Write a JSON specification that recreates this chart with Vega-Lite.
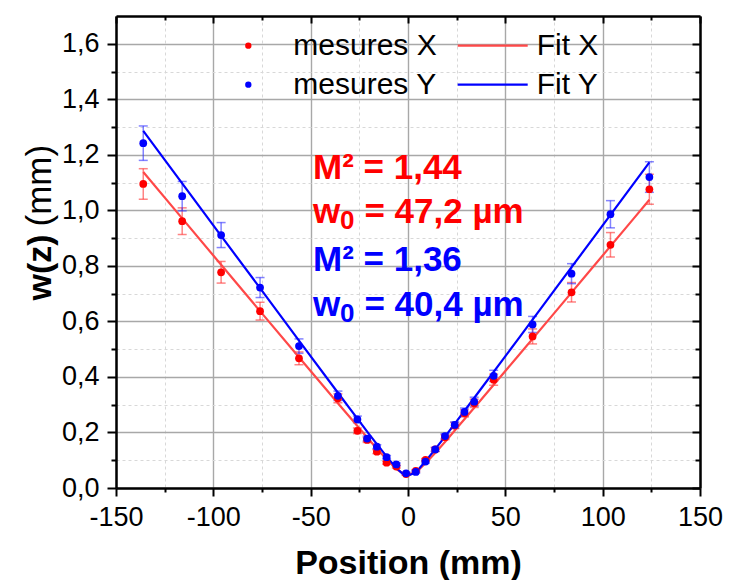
{
  "$schema": "https://vega.github.io/schema/vega-lite/v6.json",
  "width": 584,
  "height": 472,
  "autosize": {"type": "none"},
  "padding": {"left": 116, "top": 16, "right": 29, "bottom": 92},
  "background": "white",
  "config": {"font": "Liberation Sans", "view": {"stroke": null}},
  "datasets": {
    "meas": [
      {"z": -136, "w": 1.095, "err": 0.055, "series": "mesures X"},
      {"z": -116, "w": 0.961, "err": 0.048, "series": "mesures X"},
      {"z": -96, "w": 0.777, "err": 0.039, "series": "mesures X"},
      {"z": -76, "w": 0.637, "err": 0.032, "series": "mesures X"},
      {"z": -56, "w": 0.467, "err": 0.023, "series": "mesures X"},
      {"z": -36, "w": 0.323, "err": 0.016, "series": "mesures X"},
      {"z": -26, "w": 0.206, "err": 0.010, "series": "mesures X"},
      {"z": -21, "w": 0.173, "err": 0.009, "series": "mesures X"},
      {"z": -16, "w": 0.131, "err": 0.007, "series": "mesures X"},
      {"z": -11, "w": 0.091, "err": 0.005, "series": "mesures X"},
      {"z": -6, "w": 0.077, "err": 0.005, "series": "mesures X"},
      {"z": -1, "w": 0.050, "err": 0.004, "series": "mesures X"},
      {"z": 4, "w": 0.062, "err": 0.004, "series": "mesures X"},
      {"z": 9, "w": 0.101, "err": 0.005, "series": "mesures X"},
      {"z": 14, "w": 0.139, "err": 0.007, "series": "mesures X"},
      {"z": 19, "w": 0.183, "err": 0.009, "series": "mesures X"},
      {"z": 24, "w": 0.225, "err": 0.011, "series": "mesures X"},
      {"z": 29, "w": 0.269, "err": 0.013, "series": "mesures X"},
      {"z": 34, "w": 0.305, "err": 0.015, "series": "mesures X"},
      {"z": 44, "w": 0.390, "err": 0.020, "series": "mesures X"},
      {"z": 64, "w": 0.546, "err": 0.027, "series": "mesures X"},
      {"z": 84, "w": 0.705, "err": 0.035, "series": "mesures X"},
      {"z": 104, "w": 0.876, "err": 0.044, "series": "mesures X"},
      {"z": 124, "w": 1.076, "err": 0.054, "series": "mesures X"},
      {"z": -136, "w": 1.242, "err": 0.062, "series": "mesures Y"},
      {"z": -116, "w": 1.051, "err": 0.053, "series": "mesures Y"},
      {"z": -96, "w": 0.911, "err": 0.045, "series": "mesures Y"},
      {"z": -76, "w": 0.722, "err": 0.036, "series": "mesures Y"},
      {"z": -56, "w": 0.511, "err": 0.026, "series": "mesures Y"},
      {"z": -36, "w": 0.332, "err": 0.017, "series": "mesures Y"},
      {"z": -26, "w": 0.247, "err": 0.012, "series": "mesures Y"},
      {"z": -21, "w": 0.178, "err": 0.009, "series": "mesures Y"},
      {"z": -16, "w": 0.149, "err": 0.007, "series": "mesures Y"},
      {"z": -11, "w": 0.111, "err": 0.006, "series": "mesures Y"},
      {"z": -6, "w": 0.085, "err": 0.005, "series": "mesures Y"},
      {"z": -1, "w": 0.053, "err": 0.004, "series": "mesures Y"},
      {"z": 4, "w": 0.058, "err": 0.004, "series": "mesures Y"},
      {"z": 9, "w": 0.095, "err": 0.005, "series": "mesures Y"},
      {"z": 14, "w": 0.139, "err": 0.007, "series": "mesures Y"},
      {"z": 19, "w": 0.187, "err": 0.009, "series": "mesures Y"},
      {"z": 24, "w": 0.227, "err": 0.011, "series": "mesures Y"},
      {"z": 29, "w": 0.274, "err": 0.014, "series": "mesures Y"},
      {"z": 34, "w": 0.311, "err": 0.016, "series": "mesures Y"},
      {"z": 44, "w": 0.404, "err": 0.020, "series": "mesures Y"},
      {"z": 64, "w": 0.589, "err": 0.029, "series": "mesures Y"},
      {"z": 84, "w": 0.772, "err": 0.036, "series": "mesures Y"},
      {"z": 104, "w": 0.986, "err": 0.049, "series": "mesures Y"},
      {"z": 124, "w": 1.120, "err": 0.055, "series": "mesures Y"}
    ],
    "fits": [
      {"z": -136, "w": 1.138, "fit": "Fit X"},
      {"z": -116, "w": 0.971, "fit": "Fit X"},
      {"z": -96, "w": 0.804, "fit": "Fit X"},
      {"z": -76, "w": 0.637, "fit": "Fit X"},
      {"z": -56, "w": 0.471, "fit": "Fit X"},
      {"z": -36, "w": 0.305, "fit": "Fit X"},
      {"z": -26, "w": 0.223, "fit": "Fit X"},
      {"z": -20, "w": 0.174, "fit": "Fit X"},
      {"z": -15, "w": 0.134, "fit": "Fit X"},
      {"z": -10, "w": 0.096, "fit": "Fit X"},
      {"z": -6, "w": 0.069, "fit": "Fit X"},
      {"z": -3, "w": 0.054, "fit": "Fit X"},
      {"z": 0, "w": 0.048, "fit": "Fit X"},
      {"z": 3, "w": 0.054, "fit": "Fit X"},
      {"z": 6, "w": 0.069, "fit": "Fit X"},
      {"z": 10, "w": 0.096, "fit": "Fit X"},
      {"z": 15, "w": 0.134, "fit": "Fit X"},
      {"z": 20, "w": 0.174, "fit": "Fit X"},
      {"z": 26, "w": 0.223, "fit": "Fit X"},
      {"z": 36, "w": 0.305, "fit": "Fit X"},
      {"z": 56, "w": 0.471, "fit": "Fit X"},
      {"z": 76, "w": 0.637, "fit": "Fit X"},
      {"z": 96, "w": 0.804, "fit": "Fit X"},
      {"z": 116, "w": 0.971, "fit": "Fit X"},
      {"z": 124, "w": 1.038, "fit": "Fit X"},
      {"z": -136, "w": 1.286, "fit": "Fit Y"},
      {"z": -116, "w": 1.097, "fit": "Fit Y"},
      {"z": -96, "w": 0.908, "fit": "Fit Y"},
      {"z": -76, "w": 0.720, "fit": "Fit Y"},
      {"z": -56, "w": 0.531, "fit": "Fit Y"},
      {"z": -36, "w": 0.343, "fit": "Fit Y"},
      {"z": -26, "w": 0.250, "fit": "Fit Y"},
      {"z": -20, "w": 0.194, "fit": "Fit Y"},
      {"z": -15, "w": 0.149, "fit": "Fit Y"},
      {"z": -10, "w": 0.105, "fit": "Fit Y"},
      {"z": -6, "w": 0.072, "fit": "Fit Y"},
      {"z": -3, "w": 0.053, "fit": "Fit Y"},
      {"z": 0, "w": 0.045, "fit": "Fit Y"},
      {"z": 3, "w": 0.053, "fit": "Fit Y"},
      {"z": 6, "w": 0.072, "fit": "Fit Y"},
      {"z": 10, "w": 0.105, "fit": "Fit Y"},
      {"z": 15, "w": 0.149, "fit": "Fit Y"},
      {"z": 20, "w": 0.194, "fit": "Fit Y"},
      {"z": 26, "w": 0.250, "fit": "Fit Y"},
      {"z": 36, "w": 0.343, "fit": "Fit Y"},
      {"z": 56, "w": 0.531, "fit": "Fit Y"},
      {"z": 76, "w": 0.720, "fit": "Fit Y"},
      {"z": 96, "w": 0.908, "fit": "Fit Y"},
      {"z": 116, "w": 1.097, "fit": "Fit Y"},
      {"z": 124, "w": 1.173, "fit": "Fit Y"}
    ],
    "notesX": [
      {"z": -48.8, "w": 1.1124, "t": "M² = 1,44"},
      {"z": -48.8, "w": 0.9531, "t": "w"},
      {"z": -22.4, "w": 0.9531, "t": "= 47,2 µm"}
    ],
    "subX": [
      {"z": -34.9, "w": 0.9315, "t": "0"}
    ],
    "notesY": [
      {"z": -48.8, "w": 0.7831, "t": "M² = 1,36"},
      {"z": -48.8, "w": 0.6180, "t": "w"},
      {"z": -22.4, "w": 0.6180, "t": "= 40,4 µm"}
    ],
    "subY": [
      {"z": -34.9, "w": 0.5964, "t": "0"}
    ]
  },
  "resolve": {"axis": {"x": "independent", "y": "independent"}},
  "layer": [
    {
      "data": {"name": "meas"},
      "transform": [{"filter": "datum.series == 'mesures X'"}],
      "mark": {"type": "errorbar", "ticks": {"size": 9, "thickness": 1.5}, "thickness": 1.5, "opacity": 0.6, "color": "#ff3030"},
      "encoding": {
        "x": {"field": "z", "type": "quantitative", "scale": {"domain": [-150, 150], "nice": false, "zero": false}, "axis": null},
        "y": {"field": "w", "type": "quantitative", "scale": {"domain": [0, 1.7], "nice": false, "zero": false}, "axis": null},
        "yError": {"field": "err"}
      }
    },
    {
      "data": {"name": "meas"},
      "transform": [{"filter": "datum.series == 'mesures Y'"}],
      "mark": {"type": "errorbar", "ticks": {"size": 9, "thickness": 1.5}, "thickness": 1.5, "opacity": 0.6, "color": "#3030ff"},
      "encoding": {
        "x": {"field": "z", "type": "quantitative", "axis": null},
        "y": {"field": "w", "type": "quantitative", "axis": null},
        "yError": {"field": "err"}
      }
    },
    {
      "data": {"name": "fits"},
      "mark": {"type": "line", "strokeWidth": 2.2},
      "encoding": {
        "x": {"field": "z", "type": "quantitative", "scale": {"domain": [-150, 150], "nice": false, "zero": false},
          "axis": {
            "orient": "bottom",
            "values": [-150, -125, -100, -75, -50, -25, 0, 25, 50, 75, 100, 125, 150],
            "labelExpr": "datum.value % 50 == 0 ? '' + datum.value : ''",
            "labelFont": "Liberation Sans", "labelFontSize": 27, "labelColor": "black", "labelPadding": 8,
            "labelFlush": false, "labelOverlap": false,
            "tickSize": {"condition": {"test": "datum.value % 50 == 0", "value": 8}, "value": 4},
            "tickColor": "black", "tickWidth": 2,
            "domainColor": "black", "domainWidth": 2.5,
            "grid": true,
            "gridColor": {"condition": {"test": "datum.value % 50 == 0", "value": "#a8a8a8"}, "value": "#d8d8d8"},
            "gridDash": {"condition": {"test": "datum.value % 50 == 0", "value": []}, "value": [3, 3]},
            "gridWidth": {"condition": {"test": "datum.value % 50 == 0", "value": 1.4}, "value": 1},
            "title": "Position (mm)", "titleFont": "Liberation Sans", "titleFontSize": 34, "titleFontWeight": "bold",
            "titleColor": "black", "titleBaseline": "alphabetic", "titleY": 85
          }
        },
        "y": {"field": "w", "type": "quantitative", "scale": {"domain": [0, 1.7], "nice": false, "zero": false},
          "axis": {
            "orient": "left",
            "values": [0, 0.1, 0.2, 0.3, 0.4, 0.5, 0.6, 0.7, 0.8, 0.9, 1.0, 1.1, 1.2, 1.3, 1.4, 1.5, 1.6],
            "labelExpr": "round(datum.value * 10) % 2 == 0 ? replace(format(datum.value, '.1f'), '.', ',') : ''",
            "labelFont": "Liberation Sans", "labelFontSize": 27, "labelColor": "black", "labelPadding": 8,
            "labelFlush": false, "labelOverlap": false,
            "tickSize": {"condition": {"test": "round(datum.value * 10) % 2 == 0", "value": 9}, "value": 5},
            "tickColor": "black", "tickWidth": 2,
            "domainColor": "black", "domainWidth": 2.5,
            "grid": true,
            "gridColor": {"condition": {"test": "round(datum.value * 10) % 2 == 0", "value": "#a8a8a8"}, "value": "#d8d8d8"},
            "gridDash": {"condition": {"test": "round(datum.value * 10) % 2 == 0", "value": []}, "value": [3, 3]},
            "gridWidth": {"condition": {"test": "round(datum.value * 10) % 2 == 0", "value": 1.4}, "value": 1},
            "title": "w(z)", "titleFont": "Liberation Sans", "titleFontSize": 34, "titleFontWeight": "bold",
            "titleColor": "black", "titleAngle": 270, "titleAlign": "left", "titleBaseline": "alphabetic",
            "titleX": -66, "titleY": 284
          }
        },
        "stroke": {"field": "fit", "type": "nominal", "scale": {"domain": ["Fit X", "Fit Y"], "range": ["#ff4848", "#0000ff"]},
          "legend": {
            "orient": "none", "legendX": 361.7, "legendY": 14.7, "title": null, "padding": 0,
            "symbolType": "M-5,0H5", "symbolSize": 196, "symbolStrokeWidth": 2.2,
            "labelFont": "Liberation Sans", "labelFontSize": 30, "labelColor": "black", "labelOffset": 29, "labelLimit": 300,
            "rowPadding": 9
          }
        }
      }
    },
    {
      "data": {"name": "meas"},
      "mark": {"type": "point", "filled": true, "opacity": 1, "size": 60},
      "encoding": {
        "x": {"field": "z", "type": "quantitative", "scale": {"domain": [-150, 150], "nice": false, "zero": false},
          "axis": {
            "orient": "top",
            "values": [-150, -125, -100, -75, -50, -25, 0, 25, 50, 75, 100, 125, 150],
            "labels": false, "grid": false,
            "tickSize": {"condition": {"test": "datum.value % 50 == 0", "value": -7}, "value": -4},
            "tickColor": "black", "tickWidth": 2,
            "domainColor": "black", "domainWidth": 2.5,
            "title": "(mm)", "titleFont": "Liberation Sans", "titleFontSize": 35, "titleFontWeight": "normal",
            "titleColor": "black", "titleAngle": 270, "titleAlign": "left", "titleBaseline": "alphabetic",
            "titleX": -66, "titleY": 210
          }
        },
        "y": {"field": "w", "type": "quantitative", "scale": {"domain": [0, 1.7], "nice": false, "zero": false},
          "axis": {
            "orient": "right",
            "values": [0, 0.1, 0.2, 0.3, 0.4, 0.5, 0.6, 0.7, 0.8, 0.9, 1.0, 1.1, 1.2, 1.3, 1.4, 1.5, 1.6],
            "labels": false, "grid": false,
            "tickSize": {"condition": {"test": "round(datum.value * 10) % 2 == 0", "value": -8}, "value": -5},
            "tickColor": "black", "tickWidth": 2,
            "domainColor": "black", "domainWidth": 2.5,
            "title": null
          }
        },
        "fill": {"field": "series", "type": "nominal", "scale": {"domain": ["mesures X", "mesures Y"], "range": ["#ff0000", "#0000ff"]},
          "legend": {
            "orient": "none", "legendX": 117.3, "legendY": 14.7, "title": null, "padding": 0,
            "symbolType": "circle", "symbolSize": 40, "symbolStrokeWidth": 0,
            "labelFont": "Liberation Sans", "labelFontSize": 30, "labelColor": "black", "labelOffset": 30, "labelLimit": 300,
            "rowPadding": 9
          }
        }
      }
    },
    {
      "data": {"name": "notesX"},
      "mark": {"type": "text", "align": "left", "baseline": "alphabetic", "font": "Liberation Sans", "fontSize": 35, "fontWeight": "bold", "color": "#ff0000"},
      "encoding": {
        "x": {"field": "z", "type": "quantitative", "axis": null},
        "y": {"field": "w", "type": "quantitative", "axis": null},
        "text": {"field": "t"}
      }
    },
    {
      "data": {"name": "subX"},
      "mark": {"type": "text", "align": "left", "baseline": "alphabetic", "font": "Liberation Sans", "fontSize": 26, "fontWeight": "bold", "color": "#ff0000"},
      "encoding": {
        "x": {"field": "z", "type": "quantitative", "axis": null},
        "y": {"field": "w", "type": "quantitative", "axis": null},
        "text": {"field": "t"}
      }
    },
    {
      "data": {"name": "notesY"},
      "mark": {"type": "text", "align": "left", "baseline": "alphabetic", "font": "Liberation Sans", "fontSize": 35, "fontWeight": "bold", "color": "#0000ff"},
      "encoding": {
        "x": {"field": "z", "type": "quantitative", "axis": null},
        "y": {"field": "w", "type": "quantitative", "axis": null},
        "text": {"field": "t"}
      }
    },
    {
      "data": {"name": "subY"},
      "mark": {"type": "text", "align": "left", "baseline": "alphabetic", "font": "Liberation Sans", "fontSize": 26, "fontWeight": "bold", "color": "#0000ff"},
      "encoding": {
        "x": {"field": "z", "type": "quantitative", "axis": null},
        "y": {"field": "w", "type": "quantitative", "axis": null},
        "text": {"field": "t"}
      }
    }
  ]
}
